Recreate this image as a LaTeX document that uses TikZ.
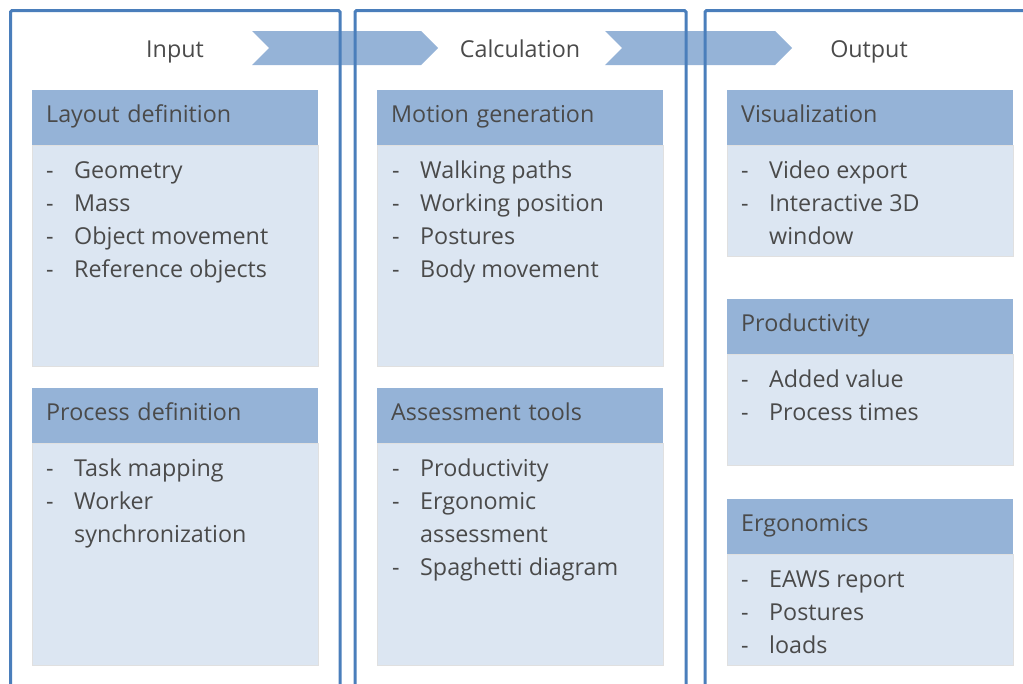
\documentclass[tikz,border=0pt]{standalone}
\usepackage{fontspec}
\setmainfont{Open Sans}
\usetikzlibrary{positioning}

\definecolor{frameblue}{HTML}{4A7EBB}
\definecolor{headblue}{HTML}{95B3D7}
\definecolor{bodyblue}{HTML}{DCE6F2}
\definecolor{textgray}{HTML}{4A4A4A}

% one dash item, its wrapped line, and the stacked list
\newcommand{\itm}[1]{\hbox{\makebox[28pt][l]{-}#1}}
\newcommand{\more}[1]{\hbox{\hspace*{28pt}#1}}
\newcommand{\lst}[1]{\vtop{\baselineskip=33pt #1}}

\begin{document}
\begin{tikzpicture}
        [x=1pt, y=-1pt,
        txt/.style={font=\fontsize{23.3}{33}\selectfont, text=textgray},
        frame/.style={draw=frameblue, line width=3pt, rounded corners=1.5pt},
        flow/.style={fill=headblue},
        head/.style={txt, fill=headblue, anchor=north west, text width=258pt,
          inner xsep=14pt, inner ysep=0pt, text height=32pt, text depth=23pt},
        body/.style={fill=bodyblue, draw=black!12, line width=0.6pt, anchor=north,
          minimum width=286pt, inner sep=0pt},
        items/.style={txt, anchor=base west, inner sep=0pt},
        title/.style={txt, anchor=base, inner sep=0pt}]
        \useasboundingbox (0,0) rectangle (1023,683);

        % flow arrows
        \fill[flow] (252,31) -- (421,31) -- (438,48) -- (421,65) -- (252,65) -- (269,48) -- cycle;
        \fill[flow] (605,31) -- (775,31) -- (792,48) -- (775,65) -- (605,65) -- (622,48) -- cycle;

        % columns
        \draw[frame] (10.5,686) |- (340,10.5) -- (340,686);
        \draw[frame] (355,686) |- (686,10.5) -- (686,686);
        \draw[frame] (705,686) |- (1030,10.5);
        \node (tin) at (175,57) [title] {Input};
        \node (tcalc) at (520,57) [title] {Calculation};
        \node (tout) at (869,57) [title] {Output};

        % input
        \node (lay) at (32,90) [head] {Layout definition};
        \node (layb) at (lay.south) [body, minimum height=221pt] {};
        \node (layl) at (46,178) [items] {\lst{\itm{Geometry}\itm{Mass}
           \itm{Object movement}\itm{Reference objects}}};
        \node (proc) at (32,388) [head] {Process definition};
        \node (procb) at (proc.south) [body, minimum height=222pt] {};
        \node (procl) at (46,476) [items] {\lst{\itm{Task mapping}\itm{Worker}
           \more{synchronization}}};

        % calculation
        \node (mot) at (377,90) [head] {Motion generation};
        \node (motb) at (mot.south) [body, minimum height=221pt] {};
        \node (motl) at (392,178) [items] {\lst{\itm{Walking paths}\itm{Working position}
           \itm{Postures}\itm{Body movement}}};
        \node (ass) at (377,388) [head] {Assessment tools};
        \node (assb) at (ass.south) [body, minimum height=222pt] {};
        \node (assl) at (392,476) [items] {\lst{\itm{Productivity}\itm{Ergonomic}
           \more{assessment}\itm{Spaghetti diagram}}};

        % output
        \node (vis) at (727,90) [head] {Visualization};
        \node (visb) at (vis.south) [body, minimum height=111pt] {};
        \node (visl) at (741,178) [items] {\lst{\itm{Video export}\itm{Interactive 3D}
           \more{window}}};
        \node (prod) at (727,299) [head] {Productivity};
        \node (prodb) at (prod.south) [body, minimum height=111pt] {};
        \node (prodl) at (741,387) [items] {\lst{\itm{Added value}\itm{Process times}}};
        \node (ergo) at (727,499) [head] {Ergonomics};
        \node (ergob) at (ergo.south) [body, minimum height=111pt] {};
        \node (ergol) at (741,587) [items] {\lst{\itm{EAWS report}\itm{Postures}
           \itm{loads}}};
     \end{tikzpicture}
\end{document}
